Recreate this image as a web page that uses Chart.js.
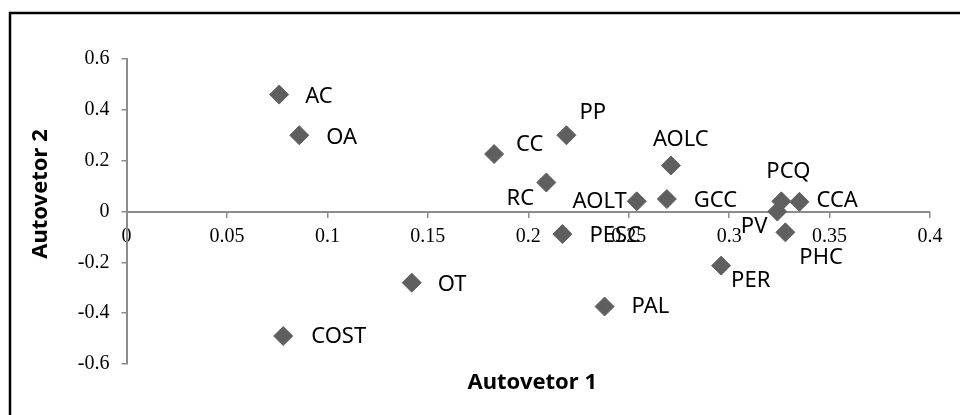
<!DOCTYPE html>
<html>
<head>
<meta charset="utf-8">
<script src="https://cdn.jsdelivr.net/npm/chart.js@4.4.0/dist/chart.umd.min.js"></script>
<style>
  html, body { margin: 0; padding: 0; background: #fff; }
  #wrap { width: 960px; height: 415px; }
</style>
</head>
<body>
<div id="wrap"><canvas id="pca" width="960" height="415"></canvas></div>
<script>
// variables and their loadings on the first two eigenvectors
var names = ['AC', 'OA', 'CC', 'PP', 'RC', 'AOLC', 'AOLT', 'GCC', 'PCQ', 'CCA', 'PV', 'PHC', 'PESC', 'PER', 'PAL', 'OT', 'COST'];
var autovetor1 = [0.076, 0.086, 0.183, 0.219, 0.209, 0.271, 0.254, 0.269, 0.326, 0.335, 0.324, 0.328, 0.217, 0.296, 0.238, 0.142, 0.078];
var autovetor2 = [0.46, 0.30, 0.226, 0.30, 0.114, 0.181, 0.04, 0.049, 0.04, 0.038, 0.0, -0.082, -0.089, -0.213, -0.374, -0.28, -0.49];

var xTicks = [0, 0.05, 0.1, 0.15, 0.2, 0.25, 0.3, 0.35, 0.4];
var yTicks = [-0.6, -0.4, -0.2, 0, 0.2, 0.4, 0.6];

// where each label sits relative to its marker (pixels)
var labelPlace = {
  AC:   {dx: 26, dy: 2,   align: 'left'},
  OA:   {dx: 27, dy: 2,   align: 'left'},
  CC:   {dx: 22, dy: -9,  align: 'left'},
  PP:   {dx: 13, dy: -23, align: 'left'},
  RC:   {dx: -26, dy: 16, align: 'center'},
  AOLC: {dx: 10, dy: -26, align: 'center'},
  AOLT: {dx: -10, dy: 0,  align: 'right'},
  GCC:  {dx: 27, dy: 2,   align: 'left'},
  PCQ:  {dx: 7, dy: -30,  align: 'center'},
  CCA:  {dx: 17, dy: -1,  align: 'left'},
  PV:   {dx: -10, dy: 15, align: 'right'},
  PHC:  {dx: 14, dy: 25,  align: 'left'},
  PESC: {dx: 27, dy: 2,   align: 'left'},
  PER:  {dx: 10, dy: 15,  align: 'left'},
  PAL:  {dx: 27, dy: 0,   align: 'left'},
  OT:   {dx: 26, dy: 2,   align: 'left'},
  COST: {dx: 28, dy: 1,   align: 'left'}
};

var points = [];
for (var i in names) {
  points.push({x: autovetor1[i], y: autovetor2[i]});
}

function fmt(v) {
  return String(parseFloat(v.toFixed(2)));
}

var pointLabels = {
  id: 'pointLabels',
  afterDatasetsDraw: function(chart) {
    var ctx = chart.ctx;
    var meta = chart.getDatasetMeta(0);
    ctx.save();
    ctx.font = '22px "Noto Sans"';
    ctx.fillStyle = '#000';
    ctx.textBaseline = 'middle';
    meta.data.forEach(function(el, i) {
      var p = labelPlace[names[i]];
      ctx.textAlign = p.align;
      ctx.fillText(names[i], el.x + p.dx, el.y + p.dy);
    });
    ctx.restore();
  }
};

var frame = {
  id: 'frame',
  afterDraw: function(chart) {
    var ctx = chart.ctx;
    var a = chart.chartArea;
    ctx.save();
    ctx.strokeStyle = '#000';
    ctx.lineWidth = 2.5;
    ctx.beginPath();
    ctx.moveTo(10, 415);
    ctx.lineTo(10, 13);
    ctx.lineTo(960, 13);
    ctx.stroke();

    ctx.fillStyle = '#000';
    ctx.font = 'bold 22px "Noto Sans"';
    ctx.textAlign = 'center';
    ctx.textBaseline = 'middle';
    ctx.fillText('Autovetor 1', (a.left + a.right) / 2 + 4, 383);
    ctx.translate(41, 194);
    ctx.rotate(-Math.PI / 2);
    ctx.fillText('Autovetor 2', 0, 0);
    ctx.restore();
  }
};

var axisColor = '#8c8c8c';

new Chart(document.getElementById('pca'), {
  type: 'scatter',
  data: {
    datasets: [{
      data: points,
      pointStyle: 'rectRot',
      pointRadius: 9.5,
      pointHoverRadius: 9.5,
      backgroundColor: '#5f5f5f',
      borderColor: '#5f5f5f',
      borderWidth: 1
    }]
  },
  options: {
    responsive: false,
    animation: false,
    layout: { padding: { left: 0, top: 59, right: 30, bottom: 51 } },
    plugins: {
      legend: { display: false },
      tooltip: { enabled: false }
    },
    scales: {
      x: {
        type: 'linear',
        position: { y: 0 },
        min: 0,
        max: 0.4,
        afterBuildTicks: function(s) { s.ticks = xTicks.map(function(v) { return {value: v}; }); },
        ticks: {
          padding: 8,
          color: '#000',
          font: { family: '"Liberation Serif"', size: 20 },
          callback: fmt
        },
        grid: { drawOnChartArea: false, drawTicks: true, tickLength: 5, color: axisColor, lineWidth: 1.5 },
        border: { color: axisColor, width: 2 }
      },
      y: {
        type: 'linear',
        position: 'left',
        min: -0.6,
        max: 0.6,
        afterBuildTicks: function(s) { s.ticks = yTicks.map(function(v) { return {value: v}; }); },
        afterFit: function(s) { s.width = 126.5; },
        ticks: {
          padding: 12,
          color: '#000',
          font: { family: '"Liberation Serif"', size: 20 },
          callback: fmt
        },
        grid: { drawOnChartArea: false, drawTicks: true, tickLength: 5, color: axisColor, lineWidth: 1.5 },
        border: { color: axisColor, width: 2 }
      }
    }
  },
  plugins: [pointLabels, frame]
});
</script>
</body>
</html>
